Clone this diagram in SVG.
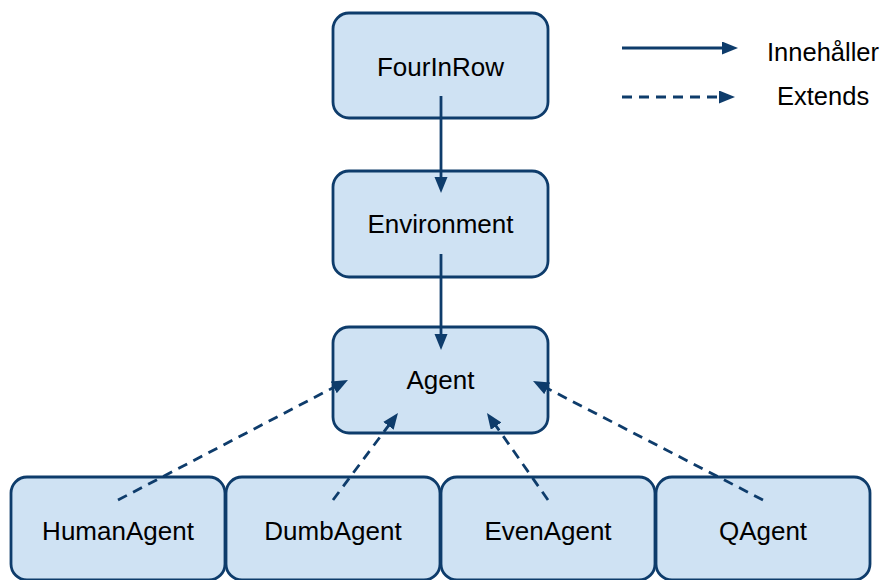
<svg xmlns="http://www.w3.org/2000/svg" width="884" height="580" viewBox="0 0 884 580">
  <style>
    .box { fill: #cfe2f3; stroke: #0e3c6b; stroke-width: 2.8; }
    .lbl { font-family: "Liberation Sans", Arial, sans-serif; font-size: 26px; fill: #000; text-anchor: middle; }
    .leg { font-family: "Liberation Sans", Arial, sans-serif; font-size: 25.5px; fill: #000; }
    .solid { stroke: #0e3c6b; stroke-width: 2.8; fill: none; marker-end: url(#head); }
    .dash { stroke: #0e3c6b; stroke-width: 2.8; fill: none; stroke-dasharray: 10 7; marker-end: url(#head); }
  </style>
  <defs>
    <marker id="head" markerUnits="userSpaceOnUse" markerWidth="18" markerHeight="14" refX="6" refY="6.5" orient="auto">
      <path d="M0,0 L16,6.5 L0,13 z" fill="#0e3c6b"/>
    </marker>
  </defs>
  <rect width="884" height="580" fill="#fff"/>

  <g id="FourInRow">
    <rect class="box" x="333" y="13" width="215" height="105" rx="16"/>
    <text class="lbl" x="440.5" y="76">FourInRow</text>
  </g>
  <g id="Environment">
    <rect class="box" x="333" y="171" width="215" height="106" rx="16"/>
    <text class="lbl" x="440.5" y="233">Environment</text>
  </g>
  <g id="Agent">
    <rect class="box" x="333" y="327" width="215" height="106" rx="16"/>
    <text class="lbl" x="440.5" y="389">Agent</text>
  </g>
  <g id="HumanAgent">
    <rect class="box" x="11" y="477" width="214" height="103" rx="16"/>
    <text class="lbl" x="118" y="540">HumanAgent</text>
  </g>
  <g id="DumbAgent">
    <rect class="box" x="226" y="477" width="214" height="103" rx="16"/>
    <text class="lbl" x="333" y="540">DumbAgent</text>
  </g>
  <g id="EvenAgent">
    <rect class="box" x="441" y="477" width="214" height="103" rx="16"/>
    <text class="lbl" x="548" y="540">EvenAgent</text>
  </g>
  <g id="QAgent">
    <rect class="box" x="656" y="477" width="214" height="103" rx="16"/>
    <text class="lbl" x="763" y="540">QAgent</text>
  </g>

  <g id="connectors">
    <line class="solid" x1="441" y1="96" x2="441" y2="183"/>
    <line class="solid" x1="441" y1="254" x2="441" y2="340"/>
    <line class="dash" x1="118" y1="500" x2="339.1" y2="384.6"/>
    <line class="dash" x1="333" y1="500" x2="392" y2="421"/>
    <line class="dash" x1="548" y1="500" x2="492.7" y2="421.2"/>
    <line class="dash" x1="763" y1="500" x2="541.9" y2="385.6"/>
  </g>

  <g id="legend">
    <line class="solid" x1="622" y1="48" x2="728" y2="48"/>
    <text class="leg" x="767" y="61">Innehåller</text>
    <line class="dash" x1="622" y1="97" x2="725" y2="97"/>
    <text class="leg" x="777" y="105">Extends</text>
  </g>
</svg>
